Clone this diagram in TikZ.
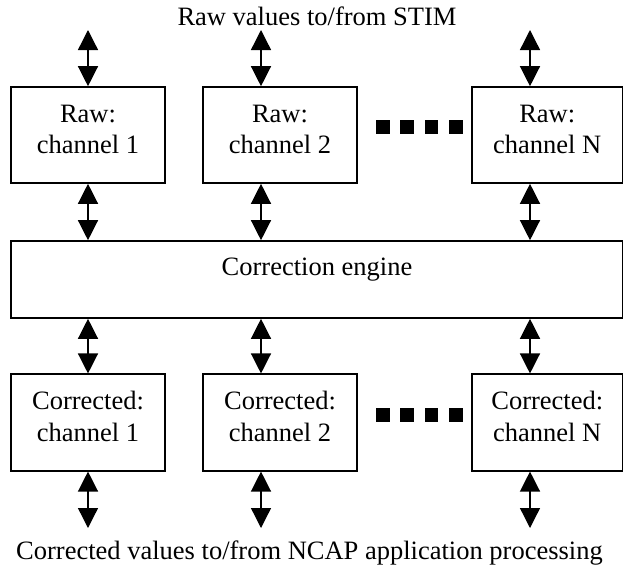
\documentclass[tikz,border=0pt]{standalone}
\usepackage{fontspec}
\setmainfont{Liberation Serif}
\usetikzlibrary{arrows.meta}

\begin{document}
\begin{tikzpicture}[x=1pt,y=-1pt,
  box/.style={draw=black, line width=1.6pt, inner sep=0pt, minimum width=154, minimum height=96},
  boxtext/.style={anchor=north, inner sep=0pt, align=center, font=\fontsize{26.5}{31.5}\selectfont},
  plain/.style={inner sep=0pt, font=\fontsize{26.5}{31.5}\selectfont},
  biarrow/.style={line width=1.3pt, {Triangle[width=20pt,length=20pt]}-{Triangle[width=20pt,length=20pt]}},
  dotsq/.style={fill=black}
]
\useasboundingbox (0,0) rectangle (624,573);

% arrow columns
\coordinate (cA) at (88,0);
\coordinate (cB) at (261,0);
\coordinate (cC) at (530,0);

% raw channel boxes
\node[box] (r1) at (88,135) {};
\node[box] (r2) at (280,135) {};
\node[box, minimum width=150.5] (rN) at (547.25,135) {};
\node[boxtext] (r1t) at ([yshift=-15.7pt]r1.north) {\rule{0pt}{20pt}Raw:\\channel 1};
\node[boxtext] (r2t) at ([yshift=-15.7pt]r2.north) {\rule{0pt}{20pt}Raw:\\channel 2};
\node[boxtext] (rNt) at ([yshift=-15.7pt]rN.north) {\rule{0pt}{20pt}Raw:\\channel N};

% correction engine
\node[box, minimum width=611.5, minimum height=77] (eng) at (316.75,279.5) {};
\node[plain, anchor=base] (engt) at (317,275) {Correction engine};

% corrected channel boxes
\node[box, minimum height=96.5] (c1) at (88,422.5) {};
\node[box, minimum height=96.5] (c2) at (280,422.5) {};
\node[box, minimum width=150.5, minimum height=96.5] (cN) at (547.25,422.5) {};
\node[boxtext] (c1t) at ([yshift=-16pt]c1.north) {\rule{0pt}{20pt}Corrected:\\channel 1};
\node[boxtext] (c2t) at ([yshift=-16pt]c2.north) {\rule{0pt}{20pt}Corrected:\\channel 2};
\node[boxtext] (cNt) at ([yshift=-16pt]cN.north) {\rule{0pt}{20pt}Corrected:\\channel N};

% outer labels
\node[plain, anchor=base] (top) at (317,25) {Raw values to/from STIM};
\node[plain, anchor=base] (bottom) at (309.5,559) {Corrected values to/from NCAP application processing};

% free arrow ends
\coordinate (tA) at (88,30);
\coordinate (tB) at (261,30);
\coordinate (tC) at (530,30);
\coordinate (bA) at (88,528);
\coordinate (bB) at (261,528);
\coordinate (bC) at (530,528);

% arrows: STIM side
\draw[biarrow] (tA) -- (tA |- r1.north);
\draw[biarrow] (tB) -- (tB |- r2.north);
\draw[biarrow] (tC) -- (tC |- rN.north);
% arrows: raw to engine
\draw[biarrow] (cA |- r1.south) -- (cA |- eng.north);
\draw[biarrow] (cB |- r2.south) -- (cB |- eng.north);
\draw[biarrow] (cC |- rN.south) -- (cC |- eng.north);
% arrows: engine to corrected
\draw[biarrow] (cA |- eng.south) -- (cA |- c1.north);
\draw[biarrow] (cB |- eng.south) -- (cB |- c2.north);
\draw[biarrow] (cC |- eng.south) -- (cC |- cN.north);
% arrows: application side
\draw[biarrow] (c1.south -| bA) -- (bA);
\draw[biarrow] (c2.south -| bB) -- (bB);
\draw[biarrow] (cN.south -| bC) -- (bC);

% ellipsis squares
\foreach \x in {376,400.3,424.7,449} {
  \fill[dotsq] (\x,120) rectangle ++(13.5,13.5);
  \fill[dotsq] (\x,408) rectangle ++(13.5,13.5);
}
\end{tikzpicture}
\end{document}
